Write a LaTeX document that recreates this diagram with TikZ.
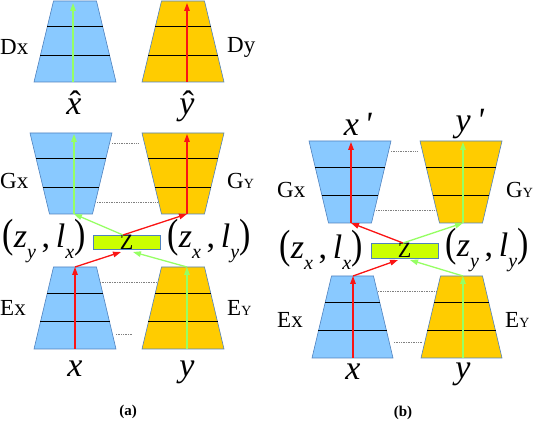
\documentclass[tikz,border=0pt]{standalone}
\usepackage{graphicx}
\usepackage{fontspec}
\setmainfont{Liberation Serif}
\usetikzlibrary{arrows.meta}
\definecolor{tblue}{RGB}{137,201,255}
\definecolor{torange}{RGB}{255,204,0}
\definecolor{tedge}{RGB}{80,130,190}
\definecolor{zfill}{RGB}{204,255,0}
\definecolor{agreen}{RGB}{150,255,100}
\definecolor{ared}{RGB}{250,20,20}
\newcommand{\sbs}[1]{\raisebox{-0.32em}{\fontsize{20}{20}\selectfont\textit{#1}}}
\newcommand{\tpar}[1]{\scalebox{1}[1.2]{#1}}
\newcommand{\hatx}[1]{\textit{#1}\llap{^^^^02c6\kern0.02em}}
\newcommand{\smallcap}[1]{{\fontsize{14}{14}\selectfont #1}}
% trapezoid: #1 name, #2 cx, #3 ytop, #4 ybot, #5 top half width, #6 bottom half width, #7 fill
\newcommand{\trapz}[7]{%
  \path[fill=#7,draw=tedge,line width=0.6pt] ({#2-#5},#3) coordinate (#1-tl) -- ({#2+#5},#3) coordinate (#1-tr)
     -- ({#2+#6},#4) coordinate (#1-br) -- ({#2-#6},#4) coordinate (#1-bl) -- cycle;
  \draw[layer] ($(#1-tl)!0.32!(#1-bl)$) -- ($(#1-tr)!0.32!(#1-br)$);
  \draw[layer] ($(#1-tl)!0.67!(#1-bl)$) -- ($(#1-tr)!0.67!(#1-br)$);
}
\usetikzlibrary{calc}
\tikzset{
  layer/.style={black, line width=0.9pt},
  flow/.style={line width=1.3pt, -{Triangle[length=8pt,width=5.5pt]}},
  plainflow/.style={line width=1.3pt},
  linkdot/.style={gray, densely dotted, line width=0.7pt},
  nlabel/.style={font=\fontsize{23}{23}\selectfont, inner sep=0pt},
  vlabel/.style={font=\fontsize{34}{34}\selectfont, inner sep=0pt},
  plabel/.style={font=\fontsize{34}{34}\selectfont, inner sep=0pt},
  zbox/.style={draw=tedge, fill=zfill, line width=0.6pt, minimum width=67pt, minimum height=14pt, inner sep=0pt},
  zletter/.style={font=\fontsize{22}{22}\selectfont, inner sep=0pt},
  panel/.style={font=\fontsize{15}{15}\selectfont\bfseries, inner sep=0pt},
}
\begin{document}
\begin{tikzpicture}[x=1pt,y=-1pt]
\useasboundingbox (0,0) rectangle (542,422);

% ================= panel (a) =================
\trapz{dxa}{75}{1}{82}{21.5}{41}{tblue}
\trapz{dya}{183}{1}{82}{21.5}{41}{torange}
\trapz{gxa}{71}{133}{214}{41}{21.5}{tblue}
\trapz{gya}{183}{133}{214}{41}{21.5}{torange}
\trapz{exa}{75}{267}{349}{21.5}{41}{tblue}
\trapz{eya}{183}{267}{349}{21.5}{41}{torange}

% dotted links
\coordinate (la1) at (112,143); \coordinate (la2) at (139,143);
\coordinate (la3) at (97,202);  \coordinate (la4) at (158,202);
\coordinate (la5) at (100,282); \coordinate (la6) at (157,282);
\coordinate (la7) at (116,334); \coordinate (la8) at (132,334);
\draw[linkdot] (la1) -- (la2);
\draw[linkdot] (la3) -- (la4);
\draw[linkdot] (la5) -- (la6);
\draw[linkdot] (la7) -- (la8);

% arrow end points
\coordinate (dxa-b) at (73,82);  \coordinate (dxa-t) at (73,3);
\coordinate (dya-b) at (187,82); \coordinate (dya-t) at (187,3);
\coordinate (gxa-b) at (74,214); \coordinate (gxa-t) at (74,134);
\coordinate (gya-b) at (187,214);\coordinate (gya-t) at (187,134);
\coordinate (exa-b) at (75,349); \coordinate (exa-t) at (75,267);
\coordinate (eya-b) at (187,349);\coordinate (eya-t) at (187,267);
\coordinate (za-top) at (123,235);
\coordinate (za-r) at (121,252);
\coordinate (za-g) at (133,252);

\draw[flow,agreen] (dxa-b) -- (dxa-t);
\draw[flow,ared] (dya-b) -- (dya-t);
\draw[flow,agreen] (gxa-b) -- (gxa-t);
\draw[flow,ared] (gya-b) -- (gya-t);
\draw[flow,ared] (exa-b) -- (exa-t);
\draw[flow,agreen] (eya-b) -- (eya-t);

\draw[flow,ared] (exa-t) -- (za-r);
\draw[flow,agreen] (eya-t) -- (za-g);
\node[zbox] (za) at (126.5,242) {};
\node[zletter] (zal) at (126.5,242) {Z};
\draw[flow,ared] (za-top) -- (gya-b);
\draw[flow,agreen] (za-top) -- (gxa-b);

% labels (a)
\node[nlabel,anchor=west] (ldx) at (0,47) {Dx};
\node[nlabel,anchor=west] (ldy) at (227,47) {Dy};
\node[nlabel,anchor=west] (lgx) at (0,181) {Gx};
\node[nlabel,anchor=west] (lgy) at (227,181) {G\smallcap{Y}};
\node[nlabel,anchor=west] (lex) at (0,308) {Ex};
\node[nlabel,anchor=west] (ley) at (227,308) {E\smallcap{Y}};
\node[vlabel] (xhat) at (74,103) {\hatx{x}};
\node[vlabel] (yhat) at (187,106) {\hatx{y}};
\node[plabel] (pa1) at (44,241) {\tpar{(}\textit{z}\sbs{y}\,,\,\textit{l}\sbs{x}\tpar{)}};
\node[plabel] (pa2) at (209,241) {\tpar{(}\textit{z}\sbs{x}\,,\,\textit{l}\sbs{y}\tpar{)}};
\node[vlabel] (xa) at (75,369) {\textit{x}};
\node[vlabel] (ya) at (187,372) {\textit{y}};
\node[panel] (capa) at (128,412) {(a)};

% ================= panel (b) =================
\trapz{gxb}{350}{141}{223}{41}{21.5}{tblue}
\trapz{gyb}{461}{141}{223}{41}{21.5}{torange}
\trapz{exb}{352.5}{276}{358}{21}{40.5}{tblue}
\trapz{eyb}{461.5}{276}{358}{21}{40.5}{torange}

\coordinate (lb1) at (391,151); \coordinate (lb2) at (417,151);
\coordinate (lb3) at (376,210); \coordinate (lb4) at (436,210);
\coordinate (lb5) at (378,291); \coordinate (lb6) at (437,291);
\coordinate (lb7) at (394,342); \coordinate (lb8) at (422,342);
\draw[linkdot] (lb1) -- (lb2);
\draw[linkdot] (lb3) -- (lb4);
\draw[linkdot] (lb5) -- (lb6);
\draw[linkdot] (lb7) -- (lb8);

\coordinate (gxb-b) at (351,223); \coordinate (gxb-t) at (351,142);
\coordinate (gyb-b) at (463,223); \coordinate (gyb-t) at (463,142);
\coordinate (exb-b) at (353,358); \coordinate (exb-t) at (353,276);
\coordinate (eyb-b) at (463,358); \coordinate (eyb-t) at (463,276);
\coordinate (zb-top) at (403,243);
\coordinate (zb-r) at (398,260);
\coordinate (zb-g) at (410,260);

\draw[flow,ared] (gxb-b) -- (gxb-t);
\draw[flow,agreen] (gyb-b) -- (gyb-t);
\draw[flow,ared] (exb-b) -- (exb-t);
\draw[flow,agreen] (eyb-b) -- (eyb-t);

\draw[flow,ared] (exb-t) -- (zb-r);
\draw[flow,agreen] (eyb-t) -- (zb-g);
\node[zbox,minimum height=15pt] (zb) at (404.5,250.5) {};
\node[zletter] (zbl) at (404.5,250.5) {Z};
\draw[flow,ared] (zb-top) -- (gxb-b);
\draw[flow,agreen] (zb-top) -- (gyb-b);

% labels (b)
\node[vlabel] (xp) at (358,124) {\textit{x}\,\textit{\textquotesingle}};
\node[vlabel] (yp) at (470,124) {\textit{y}\,\textit{\textquotesingle}};
\node[nlabel,anchor=west] (lgxb) at (277,190) {Gx};
\node[nlabel,anchor=west] (lgyb) at (506,190) {G\smallcap{Y}};
\node[plabel] (pb1) at (321,250) {\tpar{(}\textit{z}\sbs{x}\,,\,\textit{l}\sbs{x}\tpar{)}};
\node[plabel] (pb2) at (487,250) {\tpar{(}\textit{z}\sbs{y}\,,\,\textit{l}\sbs{y}\tpar{)}};
\node[nlabel,anchor=west] (lexb) at (277,320) {Ex};
\node[nlabel,anchor=west] (leyb) at (505,320) {E\smallcap{Y}};
\node[vlabel] (xb) at (353,372) {\textit{x}};
\node[vlabel] (yb) at (463,374) {\textit{y}};
\node[panel] (capb) at (403,413) {(b)};
\end{tikzpicture}
\end{document}
